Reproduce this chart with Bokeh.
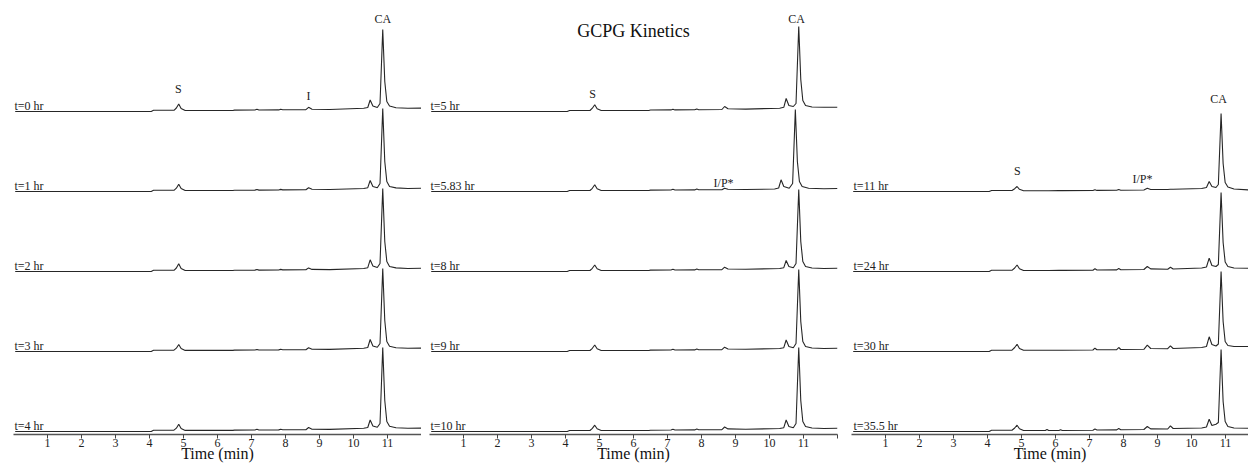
from bokeh.plotting import figure
from bokeh.models import Range1d, FixedTicker
from bokeh.layouts import row
from bokeh.core.properties import value
from bokeh.embed import file_html
from bokeh.resources import INLINE

FONT = "Liberation Serif"
AX_FONT = "'Liberation Serif', 'Times New Roman', serif"

# ---------------- data: retention-time vertices (min) and detector signal ----------------
L_T = [0.05, 4.05, 4.12, 4.72, 4.79, 4.86, 4.93, 5.05, 6.45, 6.5, 7.1, 7.16, 7.22, 7.8, 7.86, 7.92,
       8.6, 8.68, 8.78, 9.3, 10.3, 10.42, 10.49, 10.57, 10.7, 10.78, 10.86, 10.92, 10.98, 11.06,
       11.25, 11.6, 12.0]
M583_T = [0.05, 4.05, 4.12, 4.72, 4.79, 4.86, 4.93, 5.05, 6.45, 6.5, 7.1, 7.16, 7.22, 7.8, 7.86, 7.92,
          8.6, 8.68, 8.78, 9.3, 10.15, 10.27, 10.34, 10.42, 10.58, 10.68, 10.76, 10.82, 10.88, 10.96,
          11.15, 11.6, 12.0]
R_T = [0.05, 4.05, 4.12, 4.72, 4.8, 4.87, 4.94, 5.06, 5.7, 5.75, 5.8, 6.1, 6.15, 6.2, 7.1, 7.16, 7.22,
       7.8, 7.86, 7.92, 8.6, 8.7, 8.8, 9.3, 9.38, 9.46, 10.3, 10.44, 10.52, 10.6, 10.72, 10.79, 10.87,
       10.93, 10.99, 11.07, 11.25, 11.7]

# left panel
t0_hr = [0, 0, 1.2, 1.2, 3.5, 7.5, 3, 1, 1, 1.4, 1.5, 2.2, 1.5, 1.6, 2.3, 1.7, 1.8, 4.2, 2.3, 2,
         3.2, 4, 11.5, 5.5, 4, 8, 82, 30, 10, 5.5, 3.8, 3.2, 3.4]
t1_hr = [0, 0, 1.2, 1.2, 3.3, 7.3, 3, 1, 1, 1.3, 1.4, 2, 1.4, 1.5, 2.1, 1.6, 1.7, 3.8, 2.2, 2,
         3, 3.8, 11, 5, 3.8, 8, 83, 30, 10, 5, 3.6, 3, 3.2]
t2_hr = [0, 0, 1.2, 1.2, 3.5, 7.7, 3, 1, 1, 1.3, 1.4, 2, 1.4, 1.5, 2.1, 1.6, 1.7, 3.6, 2.1, 1.9,
         3, 3.8, 11.7, 5.5, 4, 8, 83, 30, 10, 5, 3.6, 3, 3.2]
t3_hr = [0, 0, 1.3, 1.3, 3.3, 7, 3, 1.1, 1.1, 1.4, 1.5, 2, 1.5, 1.6, 2.2, 1.7, 1.8, 3.8, 2.3, 2.1,
         3.2, 4, 12, 5.5, 4.2, 8, 83, 31, 10, 5.2, 3.8, 3.2, 3.4]
t4_hr = [0, 0, 1.3, 1.3, 3.3, 7.3, 3, 1.1, 1.1, 1.4, 1.5, 2.2, 1.5, 1.6, 2.2, 1.7, 1.8, 4, 2.3, 2.1,
         3.2, 4, 11.5, 5.5, 4.2, 8, 84, 31, 10, 5.2, 3.8, 3.2, 3.4]
# middle panel
t5_hr = [0, 0, 1, 1, 3.3, 6.7, 2.8, 1, 1, 1.5, 1.6, 2.3, 1.6, 1.7, 2.5, 1.8, 2, 5, 2.8, 2.4,
         3.3, 4.2, 13, 6, 5, 8, 85, 32, 11, 6, 4.5, 4.2, 4.3]
t583_hr = [0, 0, 1, 1, 3.2, 6.7, 2.8, 1, 1, 1.4, 1.5, 2.2, 1.5, 1.6, 2.4, 1.7, 1.8, 3.3, 2.2, 2,
           2.5, 3.5, 11.7, 5, 3.2, 8, 82, 30, 10, 5, 3.3, 2.8, 3]
t8_hr = [0, 0, 1, 1, 3.2, 6.5, 2.8, 1, 1, 1.4, 1.5, 2.2, 1.5, 1.6, 2.4, 1.7, 1.9, 4.3, 2.5, 2.2,
         3, 3.8, 11, 5, 3.8, 8, 82, 30, 10, 5, 3.5, 3, 3.2]
t9_hr = [0, 0, 1, 1, 3.2, 6.5, 2.8, 1, 1, 1.4, 1.5, 2.2, 1.5, 1.6, 2.4, 1.7, 1.9, 4.3, 2.5, 2.2,
         3, 3.8, 11.5, 5, 3.8, 8, 82, 30, 10, 5, 3.5, 3, 3.2]
t10_hr = [0, 0, 1, 1, 3.2, 6.3, 2.8, 1, 1, 1.3, 1.5, 2.2, 1.5, 1.6, 2.4, 1.7, 1.9, 4.5, 2.6, 2.2,
          3, 3.8, 11.5, 5, 3.8, 8, 84, 31, 10, 5, 3.5, 3, 3.2]
# right panel
t11_hr = [0, 0, 1, 1, 2.8, 5, 2.2, 0.8, 0.8, 0.8, 0.8, 0.9, 0.9, 0.9, 1, 1.8, 1.1, 1.2, 2, 1.3,
          1.5, 3.2, 2, 2, 2.2, 2.2, 3, 4, 10, 5, 4, 7, 78, 28, 9, 4.5, 2.5, 1.5]
t24_hr = [0, 0, 1.2, 1.2, 3.5, 6.5, 2.8, 1, 1, 1, 1, 1.1, 1.1, 1.1, 1.3, 2.8, 1.5, 1.6, 3, 1.8,
          2, 5, 2.6, 2.3, 4.3, 2.5, 3.5, 4.5, 13.3, 6, 5, 7, 79, 29, 9.5, 5, 3.5, 3.3]
t30_hr = [0, 0, 1.3, 1.3, 4, 7.3, 3, 1.2, 1.2, 1.2, 1.2, 1.3, 1.3, 1.3, 1.5, 3.3, 1.7, 1.8, 4, 2,
          2.2, 6.3, 3, 2.8, 5.7, 3, 4, 5, 14.7, 7, 5.5, 7.5, 80, 30, 10, 6, 5, 5]
t355_hr = [0, 0, 1.3, 1.3, 3.5, 6.3, 2.8, 1, 1, 2, 1, 1, 1.8, 1, 1.3, 2.5, 1.5, 1.6, 3, 1.8,
           2, 5, 2.6, 2.5, 5.7, 3, 3.5, 4.5, 12.3, 6, 7.3, 9, 82, 30, 10, 5, 3.5, 3.3]

LEFT_NAMES = ["t=0 hr", "t=1 hr", "t=2 hr", "t=3 hr", "t=4 hr"]
MID_NAMES = ["t=5 hr", "t=5.83 hr", "t=8 hr", "t=9 hr", "t=10 hr"]
RIGHT_NAMES = ["t=11 hr", "t=24 hr", "t=30 hr", "t=35.5 hr"]

PEAK_TEXT_L = ["S", "I", "CA"]
PEAK_TEXT_M = ["S", "I/P*", "CA"]
PEAK_TEXT_R = ["S", "I/P*", "CA"]
PEAK_RT_L = [4.85, 8.68, 10.86]
PEAK_RT_M = [4.8, 8.65, 10.8]
PEAK_RT_R = [4.88, 8.56, 10.8]

TICKS = [1, 2, 3, 4, 5, 6, 7, 8, 9, 10, 11, 12]
TITLE = "GCPG Kinetics"
X_LABEL = "Time (min)"

# ---------------- layout constants ----------------
SPACING = 80
BASE = 3
FRAME_H = 434


def panel(frame_w, x_end, border_l, border_r, traces, names, label_x, peak_text, peak_rt, peak_y):
    p = figure(frame_width=frame_w, frame_height=FRAME_H, x_range=Range1d(0, x_end),
               y_range=Range1d(0, FRAME_H), output_backend="svg", toolbar_location=None,
               y_axis_location=None, min_border_left=border_l, min_border_right=border_r,
               min_border_top=0, min_border_bottom=29)
    p.outline_line_color = None
    p.grid.visible = False
    p.background_fill_color = "white"
    p.border_fill_color = "white"
    n = len(traces)
    offs = []
    for k, (ts, hs) in enumerate(traces):
        off = BASE + SPACING * (n - 1 - k)
        offs.append(off)
        p.line(ts, [h + off for h in hs], line_color="#262626", line_width=1.1)
    p.text(x=[label_x] * n, y=[o + 6 for o in offs], text=names, text_font=value(FONT),
           text_font_size="12px", text_color="#222222", text_baseline="middle", text_align="left")
    p.text(x=peak_rt, y=peak_y, text=peak_text, text_font=value(FONT), text_font_size="12px",
           text_color="#222222", text_baseline="middle", text_align="center")
    ax = p.xaxis[0]
    ax.ticker = FixedTicker(ticks=TICKS)
    ax.major_label_overrides = {12: ""}
    ax.minor_tick_line_color = None
    ax.major_tick_in = 0
    ax.major_tick_out = 4
    ax.major_tick_line_color = "#444444"
    ax.axis_line_color = "#555555"
    ax.axis_line_width = 1.5
    ax.major_label_text_font = AX_FONT
    ax.major_label_text_font_size = "12px"
    ax.major_label_text_color = "#222222"
    ax.major_label_standoff = 0
    ax.axis_label = X_LABEL
    ax.axis_label_text_font = AX_FONT
    ax.axis_label_text_font_size = "16px"
    ax.axis_label_text_font_style = "normal"
    ax.axis_label_text_color = "#111111"
    ax.axis_label_standoff = -5
    return p


p1 = panel(408, 12, 13, 0, [(L_T, t0_hr), (L_T, t1_hr), (L_T, t2_hr), (L_T, t3_hr), (L_T, t4_hr)],
           LEFT_NAMES, 0.03, PEAK_TEXT_L, PEAK_RT_L, [346, 339, 416])
p2 = panel(408, 12, 8, 2, [(L_T, t5_hr), (M583_T, t583_hr), (L_T, t8_hr), (L_T, t9_hr), (L_T, t10_hr)],
           MID_NAMES, 0.03, PEAK_TEXT_M, PEAK_RT_M, [341, 252, 416])
p2.text(x=[6.0], y=[404], text=[TITLE], text_font=value(FONT), text_font_size="18px",
        text_color="#111111", text_baseline="middle", text_align="center")
p3 = panel(397, 397 / 34, 12, 0, [(R_T, t11_hr), (R_T, t24_hr), (R_T, t30_hr), (R_T, t355_hr)],
           RIGHT_NAMES, 0.06, PEAK_TEXT_R, PEAK_RT_R, [264, 256, 336])

layout = row(p1, p2, p3)
open("out.html", "w").write(file_html(layout, INLINE))
